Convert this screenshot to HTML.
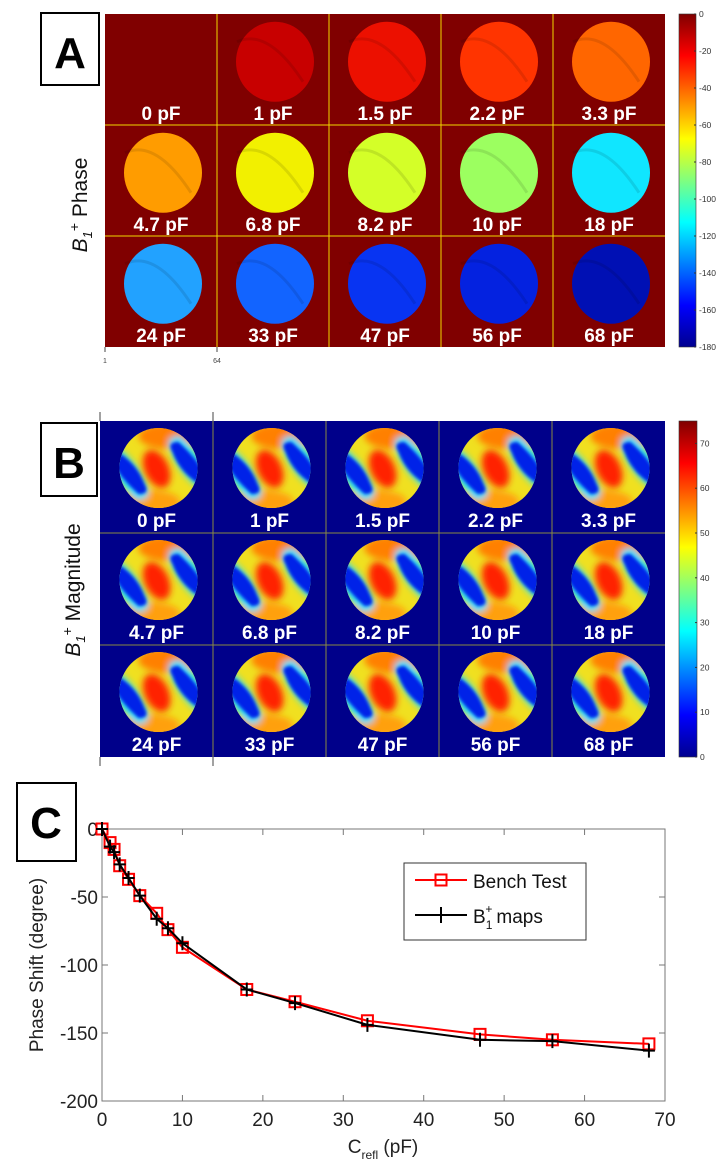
<!DOCTYPE html>
<html><head><meta charset="utf-8"><style>
body{margin:0;background:#fff;}
svg{display:block;font-family:"Liberation Sans",sans-serif;}
.lbl{fill:#fff;font-weight:bold;font-size:19px;font-family:"Liberation Sans Narrow","Liberation Sans",sans-serif;}
</style></head><body>
<svg id="fig" width="721" height="1170" viewBox="0 0 721 1170">
<defs>
<linearGradient id="jet" x1="0" y1="1" x2="0" y2="0">
<stop offset="0" stop-color="#00008f"/><stop offset="0.125" stop-color="#0000ff"/><stop offset="0.375" stop-color="#00ffff"/><stop offset="0.625" stop-color="#ffff00"/><stop offset="0.875" stop-color="#ff0000"/><stop offset="1" stop-color="#800000"/>
</linearGradient>
<filter id="blur" x="-20%" y="-20%" width="140%" height="140%"><feGaussianBlur stdDeviation="3.5"/></filter>
<filter id="blur2" x="-20%" y="-20%" width="140%" height="140%"><feGaussianBlur stdDeviation="1.5"/></filter>
<clipPath id="ell"><ellipse cx="0" cy="0" rx="39" ry="40"/></clipPath>
<g id="mag">
<g clip-path="url(#ell)">
<rect x="-42" y="-42" width="84" height="84" fill="#f0e020"/>
<g filter="url(#blur)">
<ellipse cx="10" cy="-32" rx="30" ry="13" fill="#ff8000"/>
<ellipse cx="-8" cy="34" rx="30" ry="12" fill="#ffa010"/>
<path d="M-46 -24 Q-22 -8 -12 18 Q-6 32 -22 32 Q-44 12 -48 -6Z" fill="#20e0ff"/>
<path d="M46 24 Q22 8 12 -18 Q6 -32 22 -32 Q44 -12 48 6Z" fill="#20e0ff"/>
</g>
<g filter="url(#blur2)">
<path d="M-44 -18 Q-22 -6 -14 16 Q-8 26 -20 26 Q-40 8 -44 -4Z" fill="#0020e8"/>
<path d="M44 18 Q22 6 14 -16 Q8 -26 20 -26 Q40 -8 44 4Z" fill="#0020e8"/>
</g>
<g filter="url(#blur)">
<ellipse cx="-2" cy="0" rx="12" ry="20" transform="rotate(-25)" fill="#ff2000"/>
</g>
</g>
</g>
</defs>
<g id="panelA"></g>
<g id="panelB"></g>
<g id="panelC"></g>
</svg>
<script>
const NS="http://www.w3.org/2000/svg";
function el(p,t,a,txt){const e=document.createElementNS(NS,t);for(const k in a)e.setAttribute(k,a[k]);if(txt!==undefined)e.textContent=txt;p.appendChild(e);return e;}
const capLabels=["0 pF","1 pF","1.5 pF","2.2 pF","3.3 pF","4.7 pF","6.8 pF","8.2 pF","10 pF","18 pF","24 pF","33 pF","47 pF","56 pF","68 pF"];
const phaseColors=["#800000","#c80000","#ec1000","#ff3400","#ff6600","#ff9c00","#f2f000","#d4ff28","#9cff60","#10e6ff","#22a2ff","#1264ff","#0834f2","#0422e0","#0010b4"];
const phaseTicks=[0,-20,-40,-60,-80,-100,-120,-140,-160,-180];
const magTicks=[0,10,20,30,40,50,60,70];
const capX=[0,1,1.5,2.2,3.3,4.7,6.8,8.2,10,18,24,33,47,56,68];
const bench=[0,-10,-15,-27,-37,-49,-62,-74,-87,-118,-127,-141,-151,-155,-158];
const b1maps=[0,-13,-17,-26,-36,-49,-66,-73,-84,-118,-128,-144,-155,-156,-163];
const xTicks=[0,10,20,30,40,50,60,70];
const yTicks=[0,-50,-100,-150,-200];

// ---- Panel A
const A=document.getElementById('panelA');
(function(){
 const x0=105,x1=665,y0=14,y1=347,cw=(x1-x0)/5,ch=(y1-y0)/3;
 let r=el(A,'rect',{x:x0,y:y0,width:x1-x0,height:y1-y0,fill:'#800000'});
 
 capLabels.forEach((lab,i)=>{
  const c=i%5,rw=Math.floor(i/5),cx=x0+c*cw+cw/2,cy=y0+rw*ch+ch*0.43;
  if(i>0){const e=el(A,'ellipse',{cx:cx+2,cy:cy,rx:39,ry:40,fill:phaseColors[i]});
   
   el(A,'path',{d:`M${cx-36} ${cy-20} Q${cx-5} ${cy-34} ${cx+30} ${cy+20}`,stroke:'rgba(0,0,0,0.1)','stroke-width':3,fill:'none'});}
  const t=el(A,'text',{x:cx,y:y0+rw*ch+ch-5,'text-anchor':'middle',class:'lbl'},lab);
  
 });
 for(let c=1;c<5;c++)el(A,'line',{x1:x0+c*cw,y1:y0,x2:x0+c*cw,y2:y1,stroke:'#f0d800','stroke-width':1});
 for(let rr=1;rr<3;rr++)el(A,'line',{x1:x0,y1:y0+rr*ch,x2:x1,y2:y0+rr*ch,stroke:'#f0d800','stroke-width':1});
 el(A,'line',{x1:105,y1:347,x2:105,y2:352,stroke:'#444'});el(A,'line',{x1:217,y1:347,x2:217,y2:352,stroke:'#444'});
 el(A,'text',{x:105,y:363,'font-size':7,'text-anchor':'middle',fill:'#444'},'1');
 el(A,'text',{x:217,y:363,'font-size':7,'text-anchor':'middle',fill:'#444'},'64');
 const cb=el(A,'rect',{x:679,y:y0,width:17,height:y1-y0,fill:'url(#jet)',stroke:'#333','stroke-width':0.6});
 
 phaseTicks.forEach(v=>{const y=y0+(-v/180)*(y1-y0);el(A,'line',{x1:694,y1:y,x2:696,y2:y,stroke:'#333'});
  el(A,'text',{x:699,y:y+3,'font-size':8.5,fill:'#333'},v);});
 const b=el(A,'rect',{x:41,y:13,width:58,height:72,fill:'#fff',stroke:'#000','stroke-width':2});
 
 el(A,'text',{x:70,y:68,'text-anchor':'middle','font-size':44,'font-weight':'bold'},'A');
 const yt=el(A,'text',{transform:'translate(87,205) rotate(-90)','text-anchor':'middle','font-size':21,fill:'#111'});
 
 el(yt,'tspan',{'font-style':'italic'},'B');el(yt,'tspan',{'font-size':13,dy:5,'font-style':'italic'},'1');el(yt,'tspan',{'font-size':14,dy:-13},'+');el(yt,'tspan',{dy:8},' Phase');
})();

// ---- Panel B
const B=document.getElementById('panelB');
(function(){
 const x0=100,x1=665,y0=421,y1=757,cw=(x1-x0)/5,ch=(y1-y0)/3;
 const r=el(B,'rect',{x:x0,y:y0,width:x1-x0,height:y1-y0,fill:'#00008a'});
 
 capLabels.forEach((lab,i)=>{
  const c=i%5,rw=Math.floor(i/5),cx=x0+c*cw+cw/2+2,cy=y0+rw*ch+ch*0.42;
  const u=el(B,'use',{href:'#mag',transform:`translate(${cx},${cy})`});
  
  const t=el(B,'text',{x:cx-2,y:y0+rw*ch+ch-6,'text-anchor':'middle',class:'lbl'},lab);
  
 });
 for(let c=1;c<5;c++)el(B,'line',{x1:x0+c*cw,y1:y0,x2:x0+c*cw,y2:y1,stroke:'#8a8a40','stroke-width':1});
 for(let rr=1;rr<3;rr++)el(B,'line',{x1:x0,y1:y0+rr*ch,x2:x1,y2:y0+rr*ch,stroke:'#8a8a40','stroke-width':1});
 [100,213].forEach(x=>{el(B,'line',{x1:x,y1:412,x2:x,y2:421,stroke:'#444'});el(B,'line',{x1:x,y1:757,x2:x,y2:766,stroke:'#444'});});
 const cb=el(B,'rect',{x:679,y:y0,width:18,height:y1-y0,fill:'url(#jet)',stroke:'#333','stroke-width':0.6});
 
 magTicks.forEach(v=>{const y=y1-(v/75)*(y1-y0);el(B,'line',{x1:695,y1:y,x2:697,y2:y,stroke:'#333'});
  el(B,'text',{x:700,y:y+3,'font-size':8.5,fill:'#333'},v);});
 const b=el(B,'rect',{x:41,y:423,width:56,height:73,fill:'#fff',stroke:'#000','stroke-width':2});
 
 el(B,'text',{x:69,y:478,'text-anchor':'middle','font-size':44,'font-weight':'bold'},'B');
 const yt=el(B,'text',{transform:'translate(80,590) rotate(-90)','text-anchor':'middle','font-size':21,fill:'#111'});
 
 el(yt,'tspan',{'font-style':'italic'},'B');el(yt,'tspan',{'font-size':13,dy:5,'font-style':'italic'},'1');el(yt,'tspan',{'font-size':14,dy:-13},'+');el(yt,'tspan',{dy:8},' Magnitude');
})();

// ---- Panel C
const C=document.getElementById('panelC');
(function(){
 const px0=102,px1=665,py0=829,py1=1101;
 const sx=v=>px0+(v-0)/70*(px1-px0), sy=v=>py0+(0-v)/200*(py1-py0);
 const box=el(C,'rect',{x:px0,y:py0,width:px1-px0,height:py1-py0,fill:'#fff',stroke:'#777','stroke-width':1});
 
 xTicks.forEach(v=>{const x=sx(v);el(C,'line',{x1:x,y1:py1,x2:x,y2:py1-6,stroke:'#777'});el(C,'line',{x1:x,y1:py0,x2:x,y2:py0+6,stroke:'#777'});
  const t=el(C,'text',{x:x,y:py1+25,'text-anchor':'middle','font-size':19,fill:'#222'},v);
  });
 yTicks.forEach(v=>{const y=sy(v);el(C,'line',{x1:px0,y1:y,x2:px0+6,y2:y,stroke:'#777'});el(C,'line',{x1:px1,y1:y,x2:px1-6,y2:y,stroke:'#777'});
  const t=el(C,'text',{x:px0-4,y:y+7,'text-anchor':'end','font-size':19,fill:'#222'},v);
  });
 const ptsB=capX.map((x,i)=>sx(x)+','+sy(bench[i])).join(' ');
 const lb=el(C,'polyline',{points:ptsB,fill:'none',stroke:'#ff0000','stroke-width':2});
 
 capX.forEach((x,i)=>{const m=el(C,'rect',{x:sx(x)-5.5,y:sy(bench[i])-5.5,width:11,height:11,fill:'none',stroke:'#ff0000','stroke-width':2});
  });
 const ptsM=capX.map((x,i)=>sx(x)+','+sy(b1maps[i])).join(' ');
 const lm=el(C,'polyline',{points:ptsM,fill:'none',stroke:'#000','stroke-width':2});
 
 capX.forEach((x,i)=>{const X=sx(x),Y=sy(b1maps[i]);
  const m=el(C,'path',{d:`M${X-6} ${Y}H${X+6}M${X} ${Y-7}V${Y+7}`,stroke:'#000','stroke-width':2});
  });
 const lg=el(C,'g',{});
 el(lg,'rect',{x:404,y:863,width:182,height:77,fill:'#fff',stroke:'#333','stroke-width':1});
 el(lg,'line',{x1:415,y1:880,x2:467,y2:880,stroke:'#ff0000','stroke-width':2});
 el(lg,'rect',{x:435.5,y:874.5,width:11,height:11,fill:'none',stroke:'#ff0000','stroke-width':2});
 el(lg,'text',{x:473,y:888,'font-size':19,fill:'#111'},'Bench Test');
 el(lg,'line',{x1:415,y1:915,x2:467,y2:915,stroke:'#000','stroke-width':2});
 el(lg,'path',{d:'M441 907V923',stroke:'#000','stroke-width':2});
 const lt=el(lg,'text',{x:473,y:923,'font-size':19,fill:'#111'});
 el(lt,'tspan',{},'B');el(lt,'tspan',{'font-size':12,dy:6,dx:0},'1');el(lt,'tspan',{'font-size':12,dx:-7,dy:-16},'+');el(lt,'tspan',{dy:10,dx:4},'maps');
 const yt=el(C,'text',{transform:'translate(43,965) rotate(-90)','text-anchor':'middle','font-size':19,fill:'#222'},'Phase Shift (degree)');
 
 const xt=el(C,'text',{x:383,y:1153,'text-anchor':'middle','font-size':19,fill:'#222'});
 
 el(xt,'tspan',{},'C');el(xt,'tspan',{'font-size':12,dy:6},'refl');el(xt,'tspan',{dy:-6},' (pF)');
 const b=el(C,'rect',{x:17,y:783,width:59,height:78,fill:'#fff',stroke:'#000','stroke-width':2});
 
 el(C,'text',{x:46,y:838,'text-anchor':'middle','font-size':44,'font-weight':'bold'},'C');
})();
</script>
</body></html>
